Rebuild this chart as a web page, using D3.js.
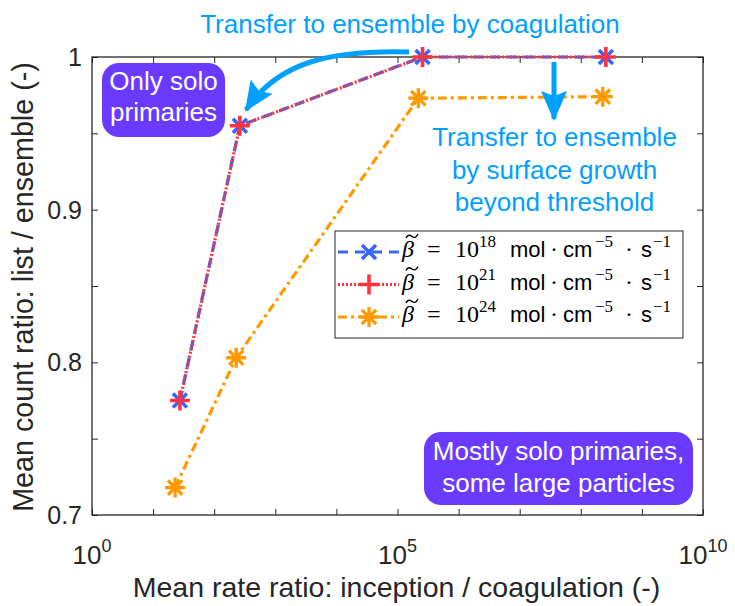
<!DOCTYPE html>
<html>
<head>
<meta charset="utf-8">
<script src="https://cdn.jsdelivr.net/npm/d3@7"></script>
<style>
  html, body { margin: 0; padding: 0; background: #fff; }
  svg { display: block; font-family: "Liberation Sans", Arial, sans-serif; }
</style>
</head>
<body>
<svg id="chart" width="735" height="606"></svg>
<script>
// Rate ratios (inception / coagulation) and mean count ratios per beta
const rateBeta18 = [27.5, 263, 2.57e5, 2.57e8];
const countBeta18 = [0.775, 0.955, 1.0, 1.0];
const rateBeta21 = [27.5, 263, 2.57e5, 2.57e8];
const countBeta21 = [0.775, 0.955, 1.0, 1.0];
const rateBeta24 = [22.9, 229, 2.19e5, 2.29e8];
const countBeta24 = [0.718, 0.803, 0.973, 0.974];

const seriesExponents = ["18", "21", "24"];
const xTickValues = [1e0, 1e1, 1e2, 1e3, 1e4, 1e5, 1e6, 1e7, 1e8, 1e9, 1e10];
const xTickLabels = [[1e0, "0"], [1e5, "5"], [1e10, "10"]];
const yTickValues = [0.7, 0.75, 0.8, 0.85, 0.9, 0.95, 1.0];
const yTickLabels = [[0.7, "0.7"], [0.8, "0.8"], [0.9, "0.9"], [1.0, "1"]];

const axisColor = "#262626";
const serif = "'Liberation Serif', 'DejaVu Serif', serif";
const svg = d3.select("#chart");

const x = d3.scaleLog().domain([1, 1e10]).range([92, 703]);
const y = d3.scaleLinear().domain([0.7, 1]).range([515, 57]);

// ---- axes (box with inward ticks on all sides) ----
const axes = svg.append("g");
function styleAxis(g) {
  g.select(".domain").remove();
  g.selectAll(".tick line").attr("stroke", axisColor).attr("stroke-width", 1);
  g.selectAll(".tick text").remove();
}
axes.append("g").attr("transform", `translate(0,${y(0.7)})`)
  .call(d3.axisBottom(x).tickValues(xTickValues).tickSize(-6)).call(styleAxis);
axes.append("g").attr("transform", `translate(0,${y(1)})`)
  .call(d3.axisTop(x).tickValues(xTickValues).tickSize(-6)).call(styleAxis);
axes.append("g").attr("transform", `translate(${x(1)},0)`)
  .call(d3.axisLeft(y).tickValues(yTickValues).tickSize(-6)).call(styleAxis);
axes.append("g").attr("transform", `translate(${x(1e10)},0)`)
  .call(d3.axisRight(y).tickValues(yTickValues).tickSize(-6)).call(styleAxis);
axes.append("rect")
  .attr("x", x(1)).attr("y", y(1))
  .attr("width", x(1e10) - x(1)).attr("height", y(0.7) - y(1))
  .attr("fill", "none").attr("stroke", axisColor).attr("stroke-width", 1.3);

// tick labels
xTickLabels.forEach(([v, e]) => {
  const t = svg.append("text").attr("x", x(v)).attr("y", 564)
    .attr("text-anchor", "middle").attr("fill", axisColor).attr("font-size", 26);
  t.append("tspan").text("10");
  t.append("tspan").attr("font-size", 18).attr("dy", -12).text(e);
});
yTickLabels.forEach(([v, s]) => {
  svg.append("text").attr("x", 82).attr("y", y(v) + 9)
    .attr("text-anchor", "end").attr("fill", axisColor).attr("font-size", 25).text(s);
});

// axis titles
svg.append("text").attr("x", 396.5).attr("y", 597).attr("text-anchor", "middle")
  .attr("fill", axisColor).attr("font-size", 28.5)
  .text("Mean rate ratio: inception / coagulation (-)");
svg.append("text").attr("transform", `translate(33,287) rotate(-90)`)
  .attr("text-anchor", "middle").attr("fill", axisColor).attr("font-size", 28.7)
  .text("Mean count ratio: list / ensemble (-)");

// ---- markers ----
function xMark(s) { return `M${-s},${-s}L${s},${s}M${-s},${s}L${s},${-s}`; }
function plusMark(s) { return `M${-s},0L${s},0M0,${-s}L0,${s}`; }
function starMark(s) { const d = s * 0.72; return plusMark(s) + xMark(d); }

const series = [
  { xs: rateBeta18, ys: countBeta18, color: "#3a66f5", dash: "10,7", mark: xMark(7), markW: 3.6 },
  { xs: rateBeta21, ys: countBeta21, color: "#ff3340", dash: "2,2", mark: plusMark(10), markW: 3.6 },
  { xs: rateBeta24, ys: countBeta24, color: "#ff9900", dash: "9,4,3,4", mark: starMark(10), markW: 3.3 }
];

const line = d3.line().x(d => x(d[0])).y(d => y(d[1]));
series.forEach(s => {
  const pts = s.xs.map((v, i) => [v, s.ys[i]]);
  const g = svg.append("g");
  g.append("path").attr("d", line(pts)).attr("fill", "none")
    .attr("stroke", s.color).attr("stroke-width", 3.2).attr("stroke-dasharray", s.dash);
  g.selectAll("path.m").data(pts).join("path").attr("class", "m")
    .attr("transform", d => `translate(${x(d[0])},${y(d[1])})`)
    .attr("d", s.mark).attr("fill", "none")
    .attr("stroke", s.color).attr("stroke-width", s.markW);
});

// ---- legend ----
const lg = svg.append("g");
lg.append("rect").attr("x", 335).attr("y", 231).attr("width", 348).attr("height", 107)
  .attr("fill", "#fff").attr("stroke", axisColor).attr("stroke-width", 1);

// pieces of the legend formula: [text, x offset, font, size, baseline shift, italic]
function formulaPieces(exp) {
  return [
    ["β", 0, serif, 24, 0, true],
    ["=", 25, serif, 24, 0],
    ["10", 53, serif, 24, 0],
    [exp, 77, serif, 17, -10],
    ["mol", 108, null, 22, 0],
    ["·", 148, serif, 24, 0],
    ["cm", 161, null, 22, 0],
    ["\u22125", 193, serif, 17, -10],
    ["·", 223, serif, 24, 0],
    ["s", 239, null, 22, 0],
    ["\u22121", 251, serif, 17, -10]
  ];
}
series.forEach((s, i) => {
  const cy = 252 + i * 32.5;
  const base = cy + 5;
  lg.append("line").attr("x1", 338).attr("x2", 399).attr("y1", cy).attr("y2", cy)
    .attr("stroke", s.color).attr("stroke-width", 3.2).attr("stroke-dasharray", s.dash);
  lg.append("path").attr("transform", `translate(369,${cy})`).attr("d", s.mark)
    .attr("fill", "none").attr("stroke", s.color).attr("stroke-width", s.markW);
  formulaPieces(seriesExponents[i]).forEach(([txt, dx, font, size, shift, ital]) => {
    const t = lg.append("text").attr("x", 402 + dx).attr("y", base + shift)
      .attr("font-size", size).attr("fill", "#000").text(txt);
    if (font) t.attr("font-family", font);
    if (ital) t.attr("font-style", "italic");
  });
  // tilde accent over beta
  const ty = base - 21;
  lg.append("path")
    .attr("d", `M406,${ty + 2} C408,${ty - 2} 410,${ty - 1} 412,${ty + 0.5} S416,${ty + 2} 418,${ty - 2}`)
    .attr("fill", "none").attr("stroke", "#000").attr("stroke-width", 1.4);
});

// ---- annotations ----
const annColor = "#00a0ff";
const boxColor = "#6a3bff";
const defs = svg.append("defs");
defs.append("marker").attr("id", "head").attr("markerUnits", "userSpaceOnUse")
  .attr("viewBox", "0 0 30 26").attr("refX", 28).attr("refY", 13)
  .attr("markerWidth", 30).attr("markerHeight", 26).attr("orient", "auto")
  .append("path").attr("d", "M0,0L30,13L0,26L5,13Z").attr("fill", annColor);

svg.append("path").attr("d", "M409,52 C330,50 278,62 246,110")
  .attr("fill", "none").attr("stroke", annColor).attr("stroke-width", 5)
  .attr("marker-end", "url(#head)");
svg.append("path").attr("d", "M554,62 L554,119")
  .attr("fill", "none").attr("stroke", annColor).attr("stroke-width", 5)
  .attr("marker-end", "url(#head)");

svg.append("text").attr("x", 410).attr("y", 33).attr("text-anchor", "middle")
  .attr("fill", annColor).attr("font-size", 26).text("Transfer to ensemble by coagulation");
["Transfer to ensemble", "by surface growth", "beyond threshold"].forEach((s, i) => {
  svg.append("text").attr("x", 554.5).attr("y", 146 + i * 32.5).attr("text-anchor", "middle")
    .attr("fill", annColor).attr("font-size", 26).text(s);
});

function labelBox(x0, y0, w, h, lines, firstBaseline, step) {
  svg.append("rect").attr("x", x0).attr("y", y0).attr("width", w).attr("height", h)
    .attr("rx", 17).attr("fill", boxColor);
  lines.forEach((s, i) => {
    svg.append("text").attr("x", x0 + w / 2).attr("y", firstBaseline + i * step)
      .attr("text-anchor", "middle").attr("fill", "#fff").attr("font-size", 26).text(s);
  });
}
labelBox(102, 63, 123, 74, ["Only solo", "primaries"], 90, 30.5);
labelBox(424, 432, 269, 73, ["Mostly solo primaries,", "some large particles"], 460, 31.5);
</script>
</body>
</html>
